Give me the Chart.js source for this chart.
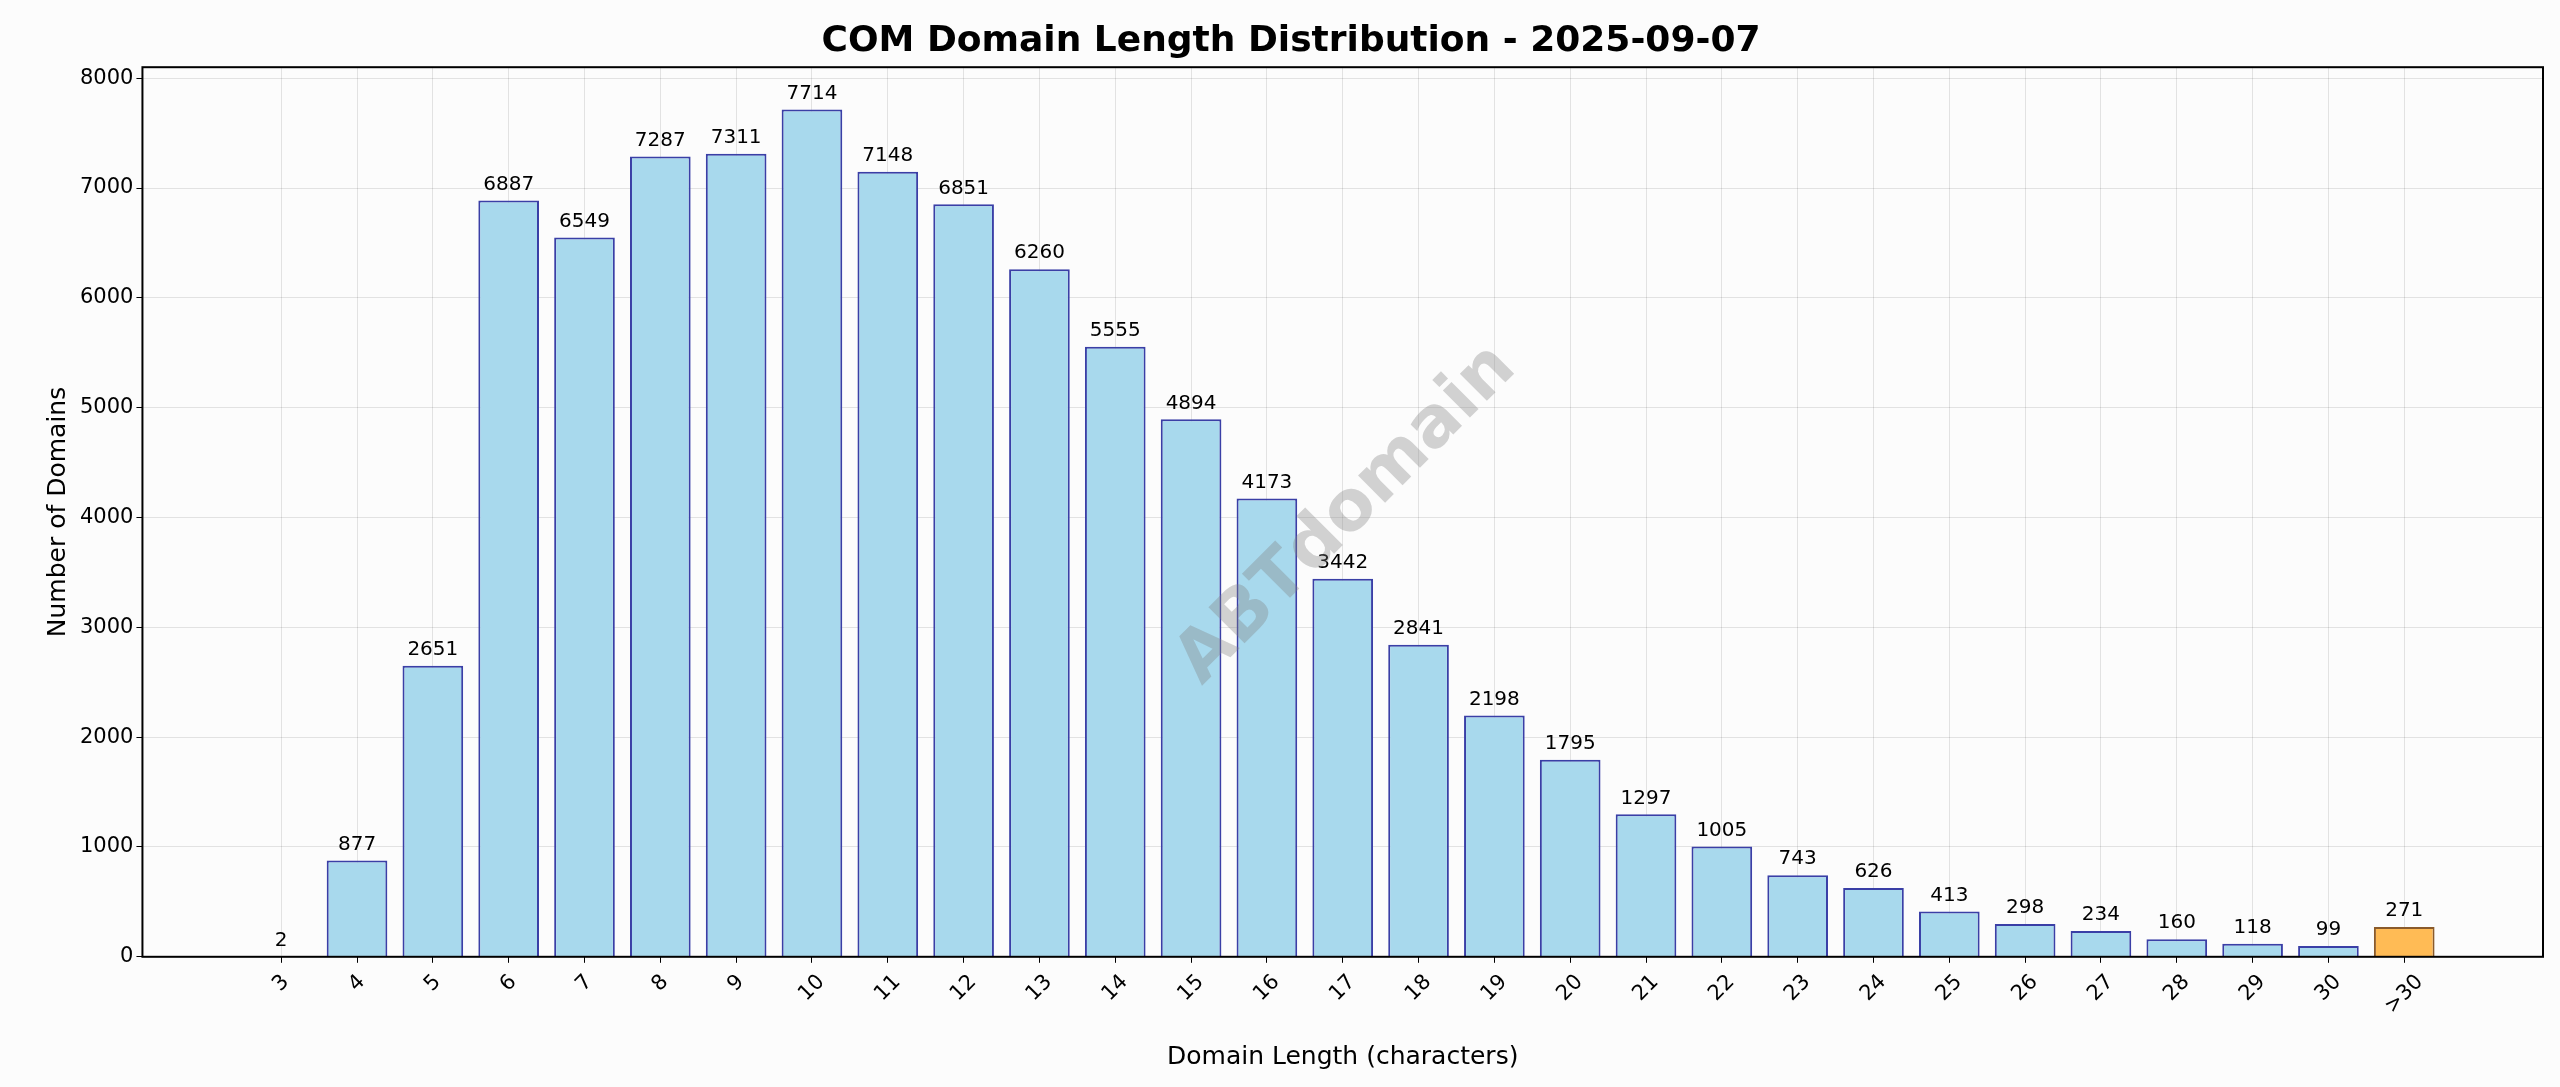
<!DOCTYPE html>
<html><head><meta charset="utf-8">
<script src="https://cdn.jsdelivr.net/npm/chart.js@4/dist/chart.umd.min.js"></script>
<style>html,body{margin:0;padding:0;background:#fcfcfc}#w{width:2560px;height:1087px}</style>
</head><body><div id="w"><canvas id="c" width="2560" height="1087"></canvas></div>
<script>
const categories = ['3','4','5','6','7','8','9','10','11','12','13','14','15','16','17','18','19','20','21','22','23','24','25','26','27','28','29','30','>30'];
const counts = [2,877,2651,6887,6549,7287,7311,7714,7148,6851,6260,5555,4894,4173,3442,2841,2198,1795,1297,1005,743,626,413,298,234,160,118,99,271];
const yTicks = [0,1000,2000,3000,4000,5000,6000,7000,8000];
const fills = counts.map((v,i)=> categories[i]==='>30' ? '#ffbb55' : '#a8d9ed');
const borders = counts.map((v,i)=> categories[i]==='>30' ? '#8a5a2a' : '#3a3fa6');
const F = 'DejaVu Sans';
const extras = {
  id:'extras',
  afterDatasetsDraw(chart){
    const ctx=chart.ctx, meta=chart.getDatasetMeta(0), ys=chart.scales.y, xs=chart.scales.x;
    ctx.save(); ctx.fillStyle='#000'; ctx.font='20px '+F; ctx.textAlign='center'; ctx.textBaseline='bottom';
    meta.data.forEach((b,i)=>ctx.fillText(String(counts[i]), b.x, ys.getPixelForValue(counts[i])-6));
    const a=chart.chartArea;
    categories.forEach((c,i)=>{
      ctx.save(); ctx.font='21px '+F; ctx.textBaseline='middle'; ctx.textAlign='center';
      const w=ctx.measureText(c).width, d=w/2*0.7071+14;
      ctx.translate(xs.getPixelForValue(i), a.bottom+8+d); ctx.rotate(-Math.PI/4);
      ctx.fillText(c,0,0); ctx.restore();
    });
    ctx.translate(1347,515); ctx.rotate(-Math.PI/4);
    ctx.font='bold 70px '+F; ctx.fillStyle='rgba(128,128,128,0.35)'; ctx.textBaseline='middle';
    ctx.fillText('ABTdomain',0,0);
    ctx.restore();
    ctx.save(); ctx.strokeStyle='#000'; ctx.lineWidth=2; ctx.strokeRect(a.left,a.top,a.right-a.left,a.bottom-a.top); ctx.restore();
  }
};
new Chart(document.getElementById('c'),{
  type:'bar',
  data:{datasets:[{data:counts.map((v,i)=>({x:i,y:v})),backgroundColor:fills,borderColor:borders,borderWidth:2,barPercentage:0.8,categoryPercentage:1}]},
  options:{
    responsive:false,animation:false,devicePixelRatio:1,
    layout:{padding:{top:20,right:17,left:39,bottom:11}},
    plugins:{legend:{display:false},tooltip:{enabled:false},
      title:{display:true,text:'COM Domain Length Distribution - 2025-09-07',font:{family:F,size:36,weight:'bold'},color:'#000',padding:{top:0,bottom:4}}},
    scales:{
      x:{type:'linear',min:-1.83,max:29.83,offset:false,
        afterBuildTicks(s){s.ticks=categories.map((c,i)=>({value:i}));},
        ticks:{autoSkip:false,maxRotation:0,minRotation:0,color:'rgba(0,0,0,0)',font:{family:F,size:21},callback:()=>''},
        grid:{offset:false,color:'rgba(0,0,0,0.1)',drawTicks:true,tickColor:'#000',tickLength:6},border:{color:'#000'},
        title:{display:true,text:'Domain Length (characters)',font:{family:F,size:25},color:'#000',padding:{top:48}}},
      y:{min:0,max:8100,afterBuildTicks(s){s.ticks=yTicks.map(v=>({value:v}));},
        ticks:{color:'#000',font:{family:F,size:21},callback:(v)=>String(v)},
        grid:{color:'rgba(0,0,0,0.1)',tickColor:'#000',tickLength:6},border:{color:'#000'},
        title:{display:true,text:'Number of Domains',font:{family:F,size:25},color:'#000'}}
    }
  },
  plugins:[extras]
});
</script></body></html>
